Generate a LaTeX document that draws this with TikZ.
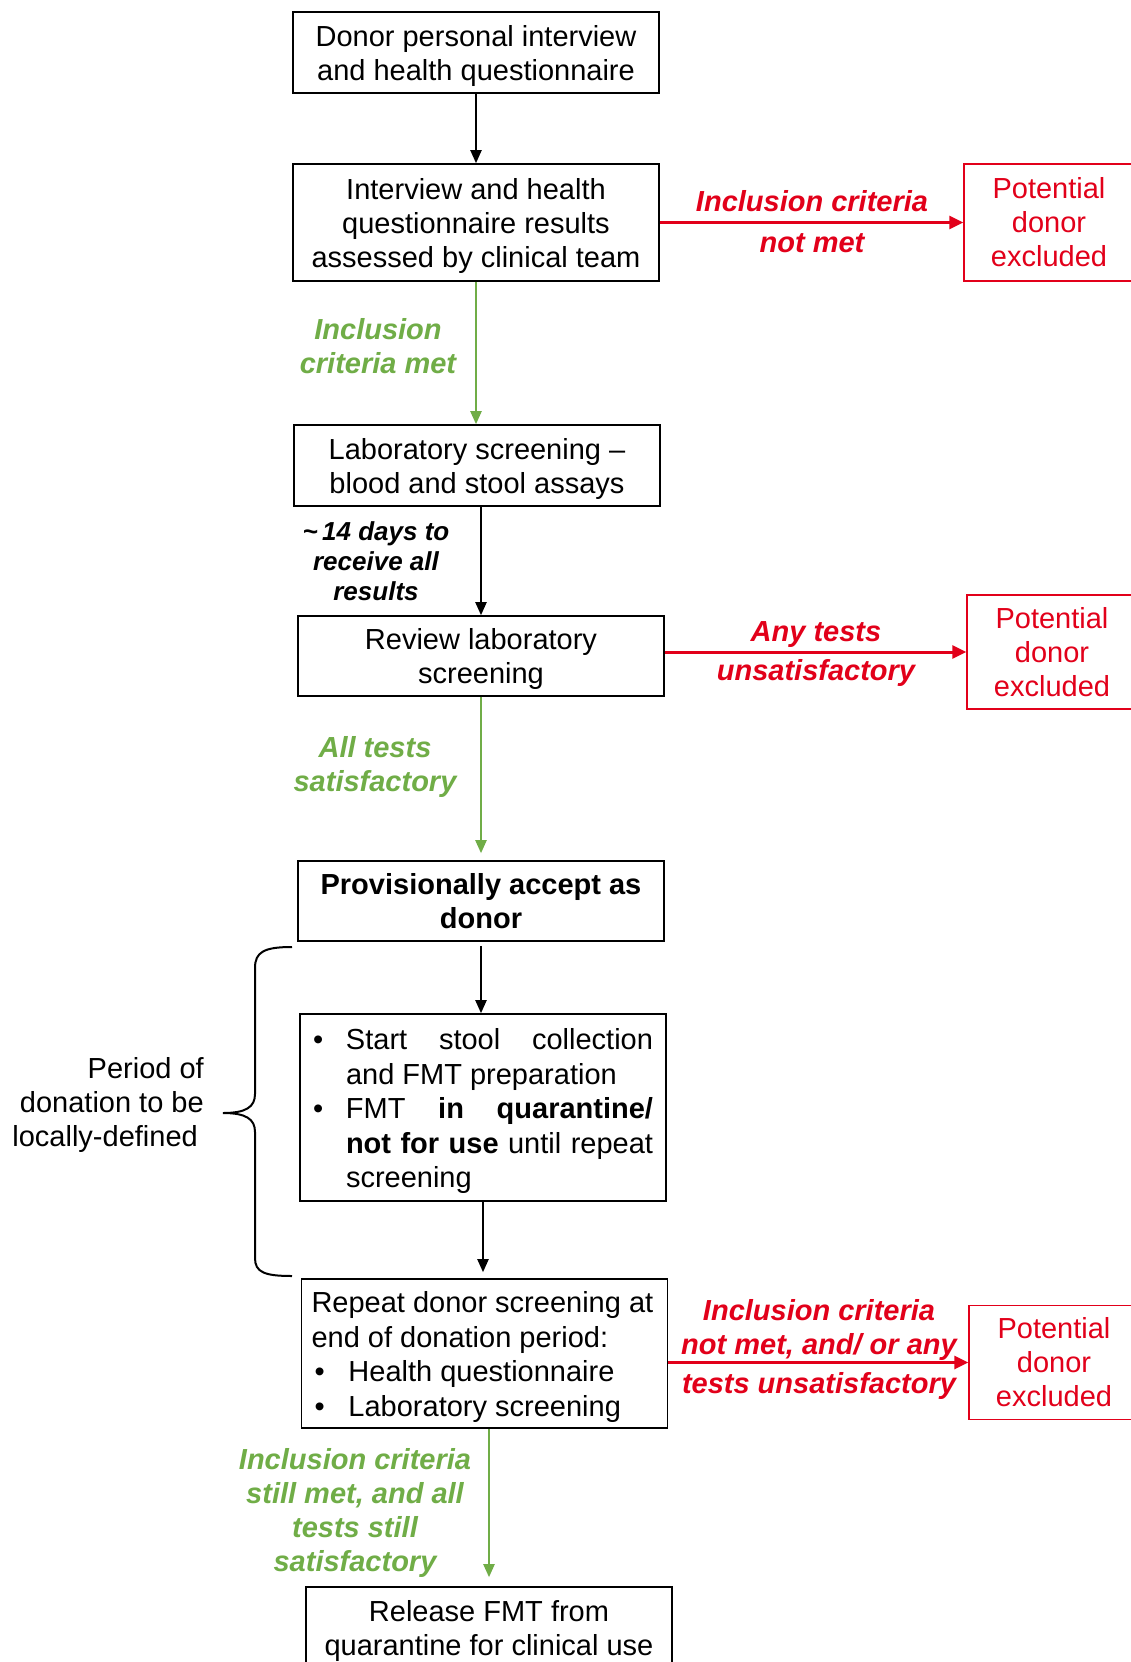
\documentclass[tikz,border=0pt]{standalone}
\usepackage{fontspec}
\setmainfont{Liberation Sans}
\usetikzlibrary{arrows.meta}
\definecolor{exred}{RGB}{226,0,26}
\definecolor{okgreen}{RGB}{112,173,71}
\begin{document}
\begin{tikzpicture}[x=1pt,y=-1pt,
  every node/.style={font=\fontsize{29}{34}\selectfont},
  box/.style={draw=black, line width=1.6pt, minimum width=366pt, align=center, inner sep=4pt},
  flatbox/.style={box, text depth=0pt},
  exbox/.style={draw=exred, line width=1.4pt, text=exred, minimum width=170pt, minimum height=114pt, align=center, inner sep=4pt},
  lab/.style={font=\fontsize{29}{34}\selectfont\bfseries\itshape, align=center, inner sep=0pt},
  redlab/.style={lab, text=exred},
  greenlab/.style={lab, text=okgreen},
  blacklab/.style={lab, text=black},
  blackarr/.style={draw=black, line width=2pt, -{Triangle[length=13pt,width=11pt]}},
  redarr/.style={draw=exred, line width=3pt, -{Triangle[length=14pt,width=13pt]}},
  greenarr/.style={draw=okgreen, line width=2.2pt, -{Triangle[length=13pt,width=11pt]}},
  bracestyle/.style={draw=black, line width=2pt}
]
\useasboundingbox (0,0) rectangle (1131,1662);
\fill[white] (0,0) rectangle (1131,1662);

% main boxes
\node[flatbox, minimum height=81pt] (b1) at (476,52.5) {Donor personal interview\\and health questionnaire};
\node[flatbox, minimum height=117pt] (b2) at (476,222.5) {Interview and health\\questionnaire results\\assessed by clinical team};
\node[flatbox, minimum height=81pt] (b3) at (477,465.5) {Laboratory screening --\\blood and stool assays};
\node[flatbox, minimum height=80pt] (b4) at (481,656) {Review laboratory\\screening};
\node[box, minimum height=80pt, font=\fontsize{29}{34}\selectfont\bfseries] (b5) at (481,901) {\raisebox{-1pt}{Provisionally accept as}\\\raisebox{-1pt}{donor}};
\node[box, minimum height=187pt, inner xsep=13pt, inner ysep=1pt] (b6) at (483,1107.5) {\begin{minipage}{340pt}\fontsize{29}{34.5}\selectfont
\vspace*{7pt}%
\hangindent=33pt\hangafter=1\noindent\makebox[33pt][l]{•}Start stool collection\linebreak and FMT preparation\par
\hangindent=33pt\hangafter=1\noindent\makebox[33pt][l]{•}FMT \textbf{in quarantine/}\linebreak\textbf{not for use} until repeat\linebreak screening
\end{minipage}};
\node[box, minimum height=149pt, inner xsep=10pt, inner ysep=1pt] (b7) at (484.5,1353.5) {\begin{minipage}{346pt}\fontsize{29}{34.5}\selectfont\raggedright
\vspace*{7pt}%
Repeat donor screening at\\end of donation period:\\
\makebox[37pt][l]{\hspace{3pt}•}Health questionnaire\\
\makebox[37pt][l]{\hspace{3pt}•}Laboratory screening
\end{minipage}};
\node[flatbox, minimum height=81pt] (b8) at (489,1627.5) {Release FMT from\\quarantine for clinical use};

% excluded boxes
\node[exbox, minimum height=117pt] (x1) at (1049,222.5) {Potential\\donor\\excluded};
\node[exbox] (x2) at (1052,652) {Potential\\donor\\excluded};
\node[exbox] (x3) at (1054,1362.5) {Potential\\donor\\excluded};

% connectors
\draw[blackarr] (b1.south) -- (b1.south |- b2.north);
\draw[greenarr] (b2.south) -- (b2.south |- b3.north);
\draw[blackarr] (b4.north |- b3.south) -- (b4.north);
\draw[greenarr, shorten >=7pt] (b4.south) -- (b4.south |- b5.north);
\draw[blackarr, shorten <=4pt] (b5.south) -- (b5.south |- b6.north);
\draw[blackarr, shorten >=6pt] (b6.south) -- (b6.south |- b7.north);
\draw[greenarr, shorten >=9pt] (b8.north |- b7.south) -- (b8.north);

\draw[redarr] (b2.east) -- (b2.east -| x1.west);
\draw[redarr] (b4.east |- x2.west) -- (x2.west);
\draw[redarr] (b7.east |- x3.west) -- (x3.west);

% labels
\node[redlab] (l1) at (812,221.5) {Inclusion criteria\\[7pt]not met};
\node[greenlab] (l2) at (378,346) {Inclusion\\criteria met};
\node[blacklab, font=\fontsize{26}{30}\selectfont\bfseries\itshape] (l3) at (376,561) {\textasciitilde\,14 days to\\receive all\\results};
\node[redlab] (l4) at (816,654.5) {Any tests\\[5pt]unsatisfactory};
\node[greenlab] (l5) at (375,767) {All tests\\satisfactory};
\node[redlab] (l6) at (819,1349) {Inclusion criteria\\not met, and/ or any\\[5pt]tests unsatisfactory};
\node[greenlab] (l7) at (355,1512.5) {Inclusion criteria\\still met, and all\\tests still\\satisfactory};

% brace and its label
\coordinate (bt) at (292,947);
\coordinate (bb) at (292,1276);
\coordinate (tip) at (223,1113);
\draw[bracestyle] (bt) .. controls (264,947) and (255,952) .. (255,968) -- (255,1094)
  .. controls (255,1107) and (246,1113) .. (tip)
  .. controls (246,1113) and (255,1119) .. (255,1132) -- (255,1258)
  .. controls (255,1272) and (264,1276) .. (bb);
\node[anchor=east, align=right, inner sep=0pt] (per) at (204,1105) {Period of\\donation to be\\locally-defined\hspace*{6pt}};
\end{tikzpicture}
\end{document}
